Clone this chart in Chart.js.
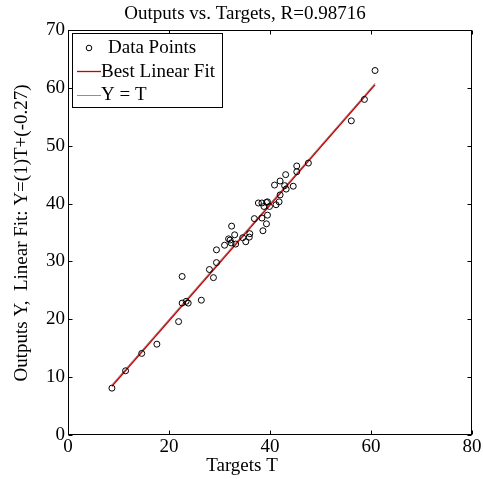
<!DOCTYPE html>
<html>
<head>
<meta charset="utf-8">
<style>
html, body { margin: 0; padding: 0; background: #fff; }
#wrap { width: 483px; height: 479px; }
</style>
<script src="https://cdn.jsdelivr.net/npm/chart.js@4.4.1/dist/chart.umd.min.js"></script>
</head>
<body>
<div id="wrap"><canvas id="regChart" width="483" height="479"></canvas></div>
<script>
// data
const targets = [8.7, 11.4, 14.6, 17.6, 21.9, 22.6, 22.6, 23.4, 23.8, 26.4,
                 28.0, 28.8, 29.4, 29.4, 31.0, 31.8, 32.1, 32.3, 32.4, 33.0,
                 33.2, 34.6, 35.2, 35.9, 36.0, 36.9, 37.7, 38.4, 38.8, 39.3,
                 39.5, 39.9, 38.4, 39.5, 38.6, 39.3, 41.2, 41.8, 42.0, 40.9,
                 42.0, 42.9, 43.2, 43.1, 44.6, 45.3, 45.3, 47.6, 56.1, 58.7, 60.8];
const outputs = [8.1, 11.1, 14.1, 15.7, 19.6, 27.4, 22.8, 23.1, 22.8, 23.3,
                 28.6, 27.2, 29.8, 32.0, 32.8, 33.9, 33.7, 33.2, 36.1, 34.6,
                 33.0, 34.1, 33.4, 34.2, 34.8, 37.4, 40.1, 40.1, 39.5, 40.2,
                 40.3, 39.5, 37.5, 38.0, 35.3, 36.5, 39.8, 40.3, 41.5, 43.2,
                 43.9, 43.1, 42.5, 45.0, 43.0, 46.5, 45.5, 47.0, 54.3, 58.0, 63.0];
const fitSlope = 1;
const fitIntercept = -0.27;
const xTickValues = [0, 20, 40, 60, 80];
const yTickValues = [0, 10, 20, 30, 40, 50, 60, 70];

const FONT = "'Liberation Serif', 'Times New Roman', serif";

(function() {
    'use strict';

    const tMin = Math.min.apply(null, targets);
    const tMax = Math.max.apply(null, targets);
    const points = targets.map(function(t, i) { return { x: t, y: outputs[i] }; });
    const fitLine = [tMin, tMax].map(function(t) { return { x: t, y: fitSlope * t + fitIntercept }; });
    const idLine = [tMin, tMax].map(function(t) { return { x: t, y: t }; });

    // MATLAB style box, inward ticks, title, labels and legend
    const matlabBox = {
        id: 'matlabBox',
        afterDraw: function(chart) {
            const ctx = chart.ctx;
            const a = chart.chartArea;
            const xs = chart.scales.x, ys = chart.scales.y;
            const L = Math.round(a.left) + 0.5, R = Math.round(a.right) - 0.5;
            const T = Math.round(a.top) + 0.5, B = Math.round(a.bottom) - 0.5;
            ctx.save();
            ctx.strokeStyle = '#000';
            ctx.lineWidth = 1;
            ctx.strokeRect(L, T, R - L, B - T);
            ctx.beginPath();
            xTickValues.forEach(function(v) {
                const px = Math.round(xs.getPixelForValue(v)) + 0.5;
                ctx.moveTo(px, B); ctx.lineTo(px, B - 4);
                ctx.moveTo(px, T); ctx.lineTo(px, T + 4);
            });
            yTickValues.forEach(function(v) {
                const py = Math.round(ys.getPixelForValue(v)) + 0.5;
                ctx.moveTo(L, py); ctx.lineTo(L + 4, py);
                ctx.moveTo(R, py); ctx.lineTo(R - 4, py);
            });
            ctx.stroke();

            ctx.fillStyle = '#000';
            ctx.font = '19px ' + FONT;
            ctx.textAlign = 'center';
            ctx.textBaseline = 'middle';
            ctx.fillText('Outputs vs. Targets, R=0.98716', 245, 14);
            ctx.fillText('Targets T', 242, 466);
            ctx.save();
            ctx.translate(22, 233);
            ctx.rotate(-Math.PI / 2);
            ctx.fillText('Outputs Y,  Linear Fit: Y=(1)T+(-0.27)', 0, 0);
            ctx.restore();

            // legend
            ctx.fillStyle = '#fff';
            ctx.fillRect(72.5, 33.5, 150, 74);
            ctx.strokeStyle = '#000';
            ctx.strokeRect(72.5, 33.5, 150, 74);
            ctx.beginPath();
            ctx.arc(89, 48, 2.8, 0, Math.PI * 2);
            ctx.stroke();
            ctx.strokeStyle = '#cc0000';
            ctx.lineWidth = 1.3;
            ctx.beginPath(); ctx.moveTo(77, 71.5); ctx.lineTo(101, 71.5); ctx.stroke();
            ctx.strokeStyle = '#909090';
            ctx.lineWidth = 1;
            ctx.beginPath(); ctx.moveTo(77, 95.5); ctx.lineTo(101, 95.5); ctx.stroke();
            ctx.fillStyle = '#000';
            ctx.textAlign = 'left';
            ctx.fillText('Data Points', 108, 48);
            ctx.fillText('Best Linear Fit', 101, 72);
            ctx.fillText('Y = T', 101, 95);
            ctx.restore();
        }
    };

    new Chart(document.getElementById('regChart'), {
        type: 'scatter',
        data: {
            datasets: [
                {
                    label: 'Data Points',
                    data: points,
                    pointStyle: 'circle',
                    pointRadius: 3,
                    pointBorderWidth: 1,
                    pointBorderColor: '#000',
                    pointBackgroundColor: 'rgba(0,0,0,0)',
                    order: 0
                },
                {
                    type: 'line',
                    label: 'Best Linear Fit',
                    data: fitLine,
                    borderColor: '#cc0000',
                    borderWidth: 1.3,
                    pointRadius: 0,
                    fill: false,
                    order: 1
                },
                {
                    type: 'line',
                    label: 'Y = T',
                    data: idLine,
                    borderColor: '#909090',
                    borderWidth: 1,
                    pointRadius: 0,
                    fill: false,
                    order: 2
                }
            ]
        },
        options: {
            responsive: false,
            animation: false,
            layout: { padding: { left: 0, right: 11, top: 30, bottom: 0 } },
            plugins: {
                legend: { display: false },
                title: { display: false },
                tooltip: { enabled: false }
            },
            scales: {
                x: {
                    type: 'linear',
                    min: 0, max: 80,
                    grid: { display: false, drawTicks: false },
                    border: { display: false },
                    afterBuildTicks: function(s) { s.ticks = xTickValues.map(function(v) { return { value: v }; }); },
                    afterFit: function(s) { s.height = 44; },
                    ticks: { color: '#000', padding: 1, maxRotation: 0, font: { family: FONT, size: 19 } }
                },
                y: {
                    type: 'linear',
                    min: 0, max: 70,
                    grid: { display: false, drawTicks: false },
                    border: { display: false },
                    afterBuildTicks: function(s) { s.ticks = yTickValues.map(function(v) { return { value: v }; }); },
                    afterFit: function(s) { s.width = 68; },
                    ticks: { color: '#000', padding: 3, font: { family: FONT, size: 19 } }
                }
            }
        },
        plugins: [matlabBox]
    });
})();
</script>
</body>
</html>
